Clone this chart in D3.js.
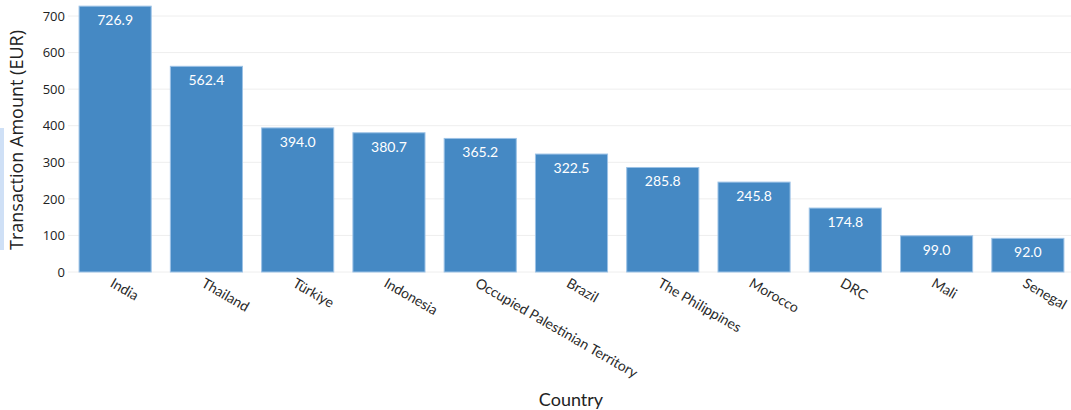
<!DOCTYPE html>
<html><head><meta charset="utf-8">
<script src="https://cdn.jsdelivr.net/npm/d3@7"></script>
<style>body{margin:0;background:#fff}</style>
</head><body>
<svg id="c" width="1071" height="410"></svg>
<script>
const countries = ["India","Thailand","Türkiye","Indonesia","Occupied Palestinian Territory","Brazil","The Philippines","Morocco","DRC","Mali","Senegal"];
const amounts = [726.9,562.4,394.0,380.7,365.2,322.5,285.8,245.8,174.8,99.0,92.0];
const yTicks = [0,100,200,300,400,500,600,700];

const svg = d3.select("#c");
const x = d3.scaleBand().domain(countries).range([69.5,1073.5]).paddingInner(0.21).paddingOuter(0.105);
const y = d3.scaleLinear().domain([0,700]).range([272,16]);

svg.append("rect").attr("x",0).attr("y",128).attr("width",4).attr("height",122).attr("fill","#cfe0f6");

const g = svg.append("g");
g.selectAll("line.grid").data(yTicks).join("line")
  .attr("x1",68).attr("x2",1071).attr("y1",d=>y(d)).attr("y2",d=>y(d))
  .attr("stroke","#eeeeee").attr("stroke-width",1);

const yAxis = d3.axisLeft(y).tickValues(yTicks).tickSize(0).tickPadding(0);
const ya = svg.append("g").attr("transform","translate(65,0)").call(yAxis);
ya.select(".domain").remove();
ya.selectAll("text").attr("font-family","Open Sans, sans-serif").attr("font-size",13).attr("fill","#222");

svg.append("g").selectAll("rect.bar").data(amounts).join("rect")
  .attr("x",(d,i)=>x(countries[i])).attr("width",x.bandwidth())
  .attr("y",d=>y(d)).attr("height",d=>y(0)-y(d))
  .attr("fill","#4589c4").attr("stroke","#9cc2e6").attr("stroke-width",1);

svg.append("g").selectAll("text.val").data(amounts).join("text")
  .attr("x",(d,i)=>x(countries[i])+x.bandwidth()/2).attr("y",d=>y(d)+19)
  .attr("text-anchor","middle").attr("font-family","Lato, sans-serif").attr("font-size",14)
  .attr("fill","#fff").text(d=>d.toFixed(1));

const xAxis = d3.axisBottom(x).tickSize(0).tickPadding(0);
const xa = svg.append("g").attr("transform","translate(0,272)").call(xAxis);
xa.select(".domain").remove();
xa.selectAll("text")
  .attr("font-family","Lato, sans-serif").attr("font-size",14).attr("fill","#2a2a2a")
  .attr("text-anchor","start").attr("dy",0).attr("y",0)
  .attr("transform",d=>`translate(-6,14) rotate(30)`);

svg.append("text").attr("transform","translate(23,140) rotate(-90)")
  .attr("text-anchor","middle").attr("font-family","Open Sans, sans-serif").attr("font-size",18)
  .attr("fill","#222").text("Transaction Amount (EUR)");

svg.append("text").attr("x",571).attr("y",406).attr("text-anchor","middle")
  .attr("font-family","Lato, sans-serif").attr("font-size",18).attr("fill","#222").text("Country");
</script>
</body></html>
